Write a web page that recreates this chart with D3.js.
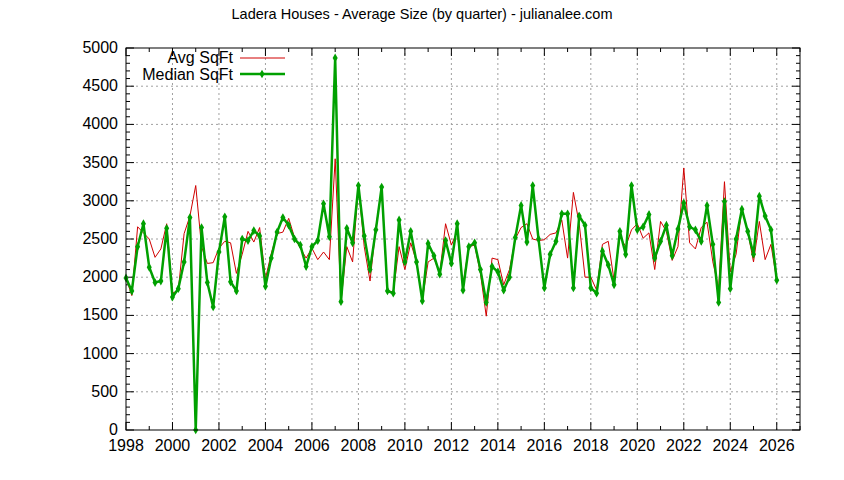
<!DOCTYPE html>
<html><head><meta charset="utf-8">
<script src="https://cdn.jsdelivr.net/npm/d3@7"></script>
<style>body{margin:0;background:#fff}</style>
</head><body>
<svg id="chart" width="844" height="480"></svg>
<script>
// quarterly values starting 1998 Q1
const startYear = 1998;
const avgSqft = [
  1990, 1760, 2660, 2580, 2500, 2260, 2370, 2700, 1790, 1830, 2570, 2800,
  3200, 2400, 2180, 2190, 2380, 2470, 2450, 2050, 2300, 2600, 2460, 2650,
  1980, 2310, 2570, 2590, 2770, 2520, 2380, 2250, 2380, 2230, 2330, 2230,
  3550, 1680, 2400, 2200, 3200, 2400, 1950, 2650, 3150, 1830, 1800, 2400,
  2100, 2450, 2200, 1700, 2200, 2250, 2050, 2700, 2420, 2600, 1900, 2400,
  2420, 2050, 1490, 2250, 2230, 1900, 2100, 2500, 2650, 2700, 2500, 2480,
  2490, 2560, 2580, 2750, 2250, 3110, 2700, 2000, 2000, 1830, 2430, 2470,
  1960, 2530, 2400, 2620, 2700, 2510, 2580, 2100, 2730, 2600, 2220, 2400,
  3430, 2450, 2370, 2650, 2720, 2200, 1850, 3250, 2070, 2300, 2900, 2600,
  2200, 2730, 2230, 2430, 1960
];
const medianSqft = [
  1990, 1820, 2400, 2700, 2130, 1930, 1950, 2640, 1740, 1850, 2200, 2780,
  0, 2650, 1930, 1610, 2330, 2790, 1940, 1820, 2500, 2480, 2610, 2540,
  1880, 2250, 2590, 2780, 2680, 2500, 2420, 2140, 2400, 2480, 2960, 2530,
  4870, 1680, 2640, 2450, 3200, 2540, 2100, 2620, 3180, 1820, 1790, 2750,
  2200, 2600, 2200, 1690, 2440, 2280, 2040, 2480, 2180, 2700, 1830, 2400,
  2450, 2100, 1670, 2140, 2070, 1830, 2000, 2520, 2940, 2460, 3200, 2500,
  1860, 2300, 2470, 2830, 2830, 1860, 2800, 2680, 1860, 1790, 2340, 2160,
  1900, 2600, 2300, 3200, 2620, 2660, 2820, 2250, 2470, 2680, 2280, 2630,
  2970, 2660, 2620, 2470, 2940, 2430, 1670, 2990, 1850, 2500, 2890, 2600,
  2300, 3060, 2800, 2620, 1960
];
const xTicks = d3.range(1998, 2027, 2);
const yTicks = d3.range(0, 5001, 500);

const svg = d3.select('#chart');
const L = 126, R = 800, T = 48, B = 430;
const x = d3.scaleLinear().domain([1998, 2027]).range([L, R]);
const y = d3.scaleLinear().domain([0, 5000]).range([B, T]);
const font = 'Liberation Sans, Arial, sans-serif';

svg.append('text').attr('x', 422).attr('y', 19).attr('text-anchor', 'middle')
  .attr('font-family', font).attr('font-size', 14.5).text('Ladera Houses - Average Size (by quarter) - julianalee.com');

const grid = svg.append('g').attr('stroke', '#a0a0a0').attr('stroke-dasharray', '2,3').attr('stroke-width', 1);
xTicks.slice(1).forEach(t => grid.append('line').attr('x1', x(t)).attr('x2', x(t)).attr('y1', T).attr('y2', B));
yTicks.slice(1, -1).forEach(t => grid.append('line').attr('x1', L).attr('x2', R).attr('y1', y(t)).attr('y2', y(t)));

const ax = svg.append('g').attr('stroke', '#000').attr('stroke-width', 1);
d3.range(0, 5001, 100).forEach(t => {
  const len = t % 500 === 0 ? 8 : 4;
  ax.append('line').attr('x1', L).attr('x2', L + len).attr('y1', y(t)).attr('y2', y(t));
  ax.append('line').attr('x1', R).attr('x2', R - len).attr('y1', y(t)).attr('y2', y(t));
});
d3.range(1998, 2028, 1).forEach(t => {
  const len = (t - 1998) % 2 === 0 ? 8 : 4;
  ax.append('line').attr('x1', x(t)).attr('x2', x(t)).attr('y1', B).attr('y2', B - len);
  ax.append('line').attr('x1', x(t)).attr('x2', x(t)).attr('y1', T).attr('y2', T + len);
});

const lab = svg.append('g').attr('font-family', font).attr('font-size', 16);
yTicks.forEach(t => lab.append('text').attr('x', L - 8).attr('y', y(t) + 5).attr('text-anchor', 'end').text(t));
xTicks.forEach(t => lab.append('text').attr('x', x(t)).attr('y', B + 21).attr('text-anchor', 'middle').text(t));

const qx = i => x(startYear + i * 0.25);
const line = d3.line().x((d, i) => qx(i)).y(d => y(d));
svg.append('path').datum(avgSqft).attr('d', line).attr('fill', 'none').attr('stroke', '#d00000').attr('stroke-width', 1);
svg.append('path').datum(medianSqft).attr('d', line).attr('fill', 'none').attr('stroke', '#00a000').attr('stroke-width', 2.5);
const diamond = d3.symbol().type(d3.symbolDiamond).size(22);
svg.append('g').selectAll('path').data(medianSqft).join('path')
  .attr('transform', (d, i) => `translate(${qx(i)},${y(d)})`).attr('d', diamond).attr('fill', '#00a000');

svg.append('rect').attr('x', L).attr('y', T).attr('width', R - L).attr('height', B - T)
  .attr('fill', 'none').attr('stroke', '#000');

// legend
const lg = svg.append('g').attr('font-family', font).attr('font-size', 16);
lg.append('text').attr('x', 233).attr('y', 63).attr('text-anchor', 'end').text('Avg SqFt');
lg.append('line').attr('x1', 240).attr('x2', 285).attr('y1', 58).attr('y2', 58).attr('stroke', '#d00000');
lg.append('text').attr('x', 233).attr('y', 80).attr('text-anchor', 'end').text('Median SqFt');
lg.append('line').attr('x1', 240).attr('x2', 285).attr('y1', 74).attr('y2', 74).attr('stroke', '#00a000').attr('stroke-width', 2.5);
lg.append('path').attr('transform', 'translate(262,74)').attr('d', diamond).attr('fill', '#00a000');
</script>
</body></html>
